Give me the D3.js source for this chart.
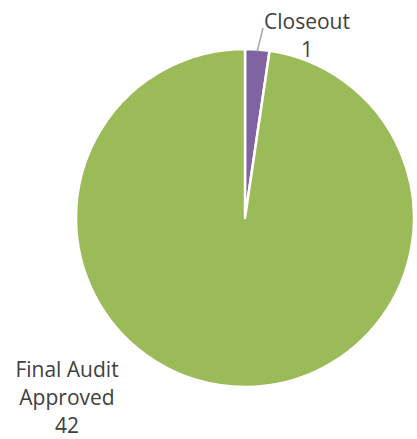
<!DOCTYPE html>
<html><head><meta charset="utf-8">
<script src="https://cdn.jsdelivr.net/npm/d3@7"></script>
<style>body{margin:0;background:#fff}</style>
</head><body>
<script>
const categories = ["Closeout", "Final Audit Approved"];
const values = [1, 42];
const colors = ["#8064A2", "#9BBB59"];

const W = 417, H = 439;
const cx = 245, cy = 218, r = 169;
const svg = d3.select("body").append("svg").attr("width", W).attr("height", H);
const data = categories.map((c, i) => ({cat: c, val: values[i], color: colors[i]}));
const pie = d3.pie().value(d => d.val).sort(null);
const arcs = pie(data);
const arc = d3.arc().innerRadius(0).outerRadius(r);
const g = svg.append("g").attr("transform", `translate(${cx},${cy})`);
g.selectAll("path").data(arcs).join("path")
  .attr("d", arc).attr("fill", d => d.data.color)
  .attr("stroke", "#fff").attr("stroke-width", 2.5).attr("stroke-linejoin", "round");

// leader line for Closeout
const a0 = arcs[0];
const mid = (a0.startAngle + a0.endAngle) / 2;
const p1 = [Math.sin(mid) * (r - 2), -Math.cos(mid) * (r - 2)];
svg.append("line")
  .attr("x1", cx + p1[0]).attr("y1", cy + p1[1])
  .attr("x2", 263).attr("y2", 28)
  .attr("stroke", "#A6A6A6").attr("stroke-width", 1.5);

const font = "Open Sans, sans-serif";
function label(lines, x, y0) {
  const t = svg.append("text").attr("text-anchor", "middle")
    .attr("font-family", font).attr("font-size", 21).attr("fill", "#404040");
  lines.forEach((l, i) => t.append("tspan").attr("x", x).attr("y", y0 + i * 28).text(l));
}
label([categories[0], String(values[0])], 307, 29);
label(["Final Audit", "Approved", String(values[1])], 67, 377);
</script>
</body></html>
